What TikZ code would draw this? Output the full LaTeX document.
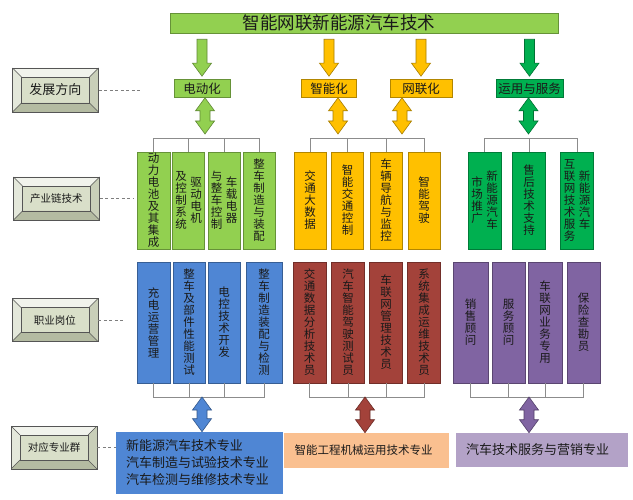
\documentclass[tikz,border=0pt]{standalone}
\usepackage{fontspec}
\setmainfont{Noto Sans CJK SC}
\usetikzlibrary{calc}
\XeTeXlinebreaklocale "zh"
\XeTeXlinebreakskip=0pt plus 1pt
\providecommand{\Lime}{92D050}
\providecommand{\Amber}{FFC000}
\providecommand{\Leaf}{00B050}
\providecommand{\Sky}{4F86D4}
\providecommand{\Brick}{A3423A}
\providecommand{\Plum}{8064A2}
\newcommand{\Shaft}{5pt}
\newcommand{\Head}{9.5pt}
\newcommand{\HeadLen}{13pt}
\newcommand{\Bevel}{9pt}
\newcommand{\ColW}{12pt}
\newcommand{\VCol}[1]{\parbox[c]{\ColW}{\centering #1}}
\definecolor{lime}{HTML}{\Lime}
\definecolor{amber}{HTML}{\Amber}
\definecolor{leaf}{HTML}{\Leaf}
\definecolor{sky}{HTML}{\Sky}
\definecolor{brick}{HTML}{\Brick}
\definecolor{plum}{HTML}{\Plum}
\definecolor{peach}{HTML}{FAC090}
\definecolor{lilac}{HTML}{B3A2C7}
\definecolor{ink}{HTML}{1A1A1A}
\definecolor{rule}{HTML}{8C8C8C}
\definecolor{bevelface}{HTML}{D9DFC9}
\definecolor{bevellight}{HTML}{F1F3EC}
\definecolor{bevelside}{HTML}{E4E8DB}
\definecolor{bevelshade}{HTML}{C9CFB9}
\definecolor{beveldark}{HTML}{B4BBA2}
\definecolor{bevelline}{HTML}{555555}

% fat block arrows, straight down / both ways
\newcommand{\FatDown}[3]{%
  \filldraw[fatarrow=#3] let \p1=(#1), \p2=(#2) in
    (\x2-\Shaft,\y1-6pt) -- (\x2+\Shaft,\y1-6pt) -- (\x2+\Shaft,\y2+3pt+\HeadLen)
    -- (\x2+\Head,\y2+3pt+\HeadLen) -- (\x2,\y2+3pt) -- (\x2-\Head,\y2+3pt+\HeadLen)
    -- (\x2-\Shaft,\y2+3pt+\HeadLen) -- cycle;}
\newcommand{\FatBoth}[3]{%
  \filldraw[fatarrow=#3] let \p1=(#1), \p2=(#2) in
    (\x1,\y1) -- (\x1+\Head,\y1-\HeadLen) -- (\x1+\Shaft,\y1-\HeadLen)
    -- (\x1+\Shaft,\y2+\HeadLen) -- (\x1+\Head,\y2+\HeadLen) -- (\x1,\y2)
    -- (\x1-\Head,\y2+\HeadLen) -- (\x1-\Shaft,\y2+\HeadLen)
    -- (\x1-\Shaft,\y1-\HeadLen) -- (\x1-\Head,\y1-\HeadLen) -- cycle;}

\tikzset{
  fatarrow/.style={fill=#1, draw=#1!65!black, line width=0.6pt, line join=miter},
  flatbox/.style={draw=#1!70!black, fill=#1, line width=0.6pt, inner sep=0pt, text=ink},
  catbox/.style={flatbox=#1, minimum height=18pt, font=\fontsize{12.5}{14}\selectfont},
  tierbox/.style={flatbox=#1, font=\fontsize{11.5}{12}\selectfont},
  bracket/.style={rule, line width=0.8pt},
  guide/.style={rule!90!black, line width=0.7pt, dash pattern=on 3pt off 2.5pt},
  bevelbox/.style={draw=bevelline, fill=bevelface, line width=0.6pt, minimum width=86pt,
    minimum height=43pt, inner sep=0pt, text=ink, font=\fontsize{10.5}{12}\selectfont,
    path picture={
      \coordinate (pnw) at (path picture bounding box.north west);
      \coordinate (pne) at (path picture bounding box.north east);
      \coordinate (psw) at (path picture bounding box.south west);
      \coordinate (pse) at (path picture bounding box.south east);
      \coordinate (qnw) at ($(pnw)+(\Bevel,-\Bevel)$);
      \coordinate (qne) at ($(pne)+(-\Bevel,-\Bevel)$);
      \coordinate (qsw) at ($(psw)+(\Bevel,\Bevel)$);
      \coordinate (qse) at ($(pse)+(-\Bevel,\Bevel)$);
      \fill[bevellight] (pnw) -- (pne) -- (qne) -- (qnw) -- cycle;
      \fill[bevelside] (pnw) -- (qnw) -- (qsw) -- (psw) -- cycle;
      \fill[beveldark] (psw) -- (qsw) -- (qse) -- (pse) -- cycle;
      \fill[bevelshade] (pne) -- (pse) -- (qse) -- (qne) -- cycle;
      \draw[bevelline, line width=0.5pt] (qnw) rectangle (qse);
      \draw[bevelline, line width=0.4pt] (pnw) -- (qnw) (pne) -- (qne) (psw) -- (qsw) (pse) -- (qse);
    }},
}

\begin{document}
\begin{tikzpicture}[x=1pt, y=-1pt]

  \fill[white] (0,0) rectangle (633,500);
  \useasboundingbox (0,0) rectangle (633,500);

  % ---- row labels on the left ---------------------------------------------
  \node[bevelbox, font=\fontsize{13}{14}\selectfont, minimum height=44pt] (dev) at (55.5,90) {发展方向};
  \node[bevelbox] (chain) at (56.5,198.5) {产业链技术};
  \node[bevelbox] (job) at (55,320) {职业岗位};
  \node[bevelbox] (major) at (54,447.5) {对应专业群};
  \coordinate (devend) at (141,90);
  \coordinate (chainend) at (134,198.5);
  \coordinate (jobend) at (124,320);
  \coordinate (majorend) at (117,447.5);
  \foreach \n in {dev,chain,job,major}
    \draw[guide] (\n.east) -- (\n end);

  % ---- title and the four directions --------------------------------------
  \node[flatbox=lime, minimum width=388pt, minimum height=20pt] (title) at (364,23) {};
  \node[text=ink, inner sep=0pt, font=\fontsize{17.5}{20}\selectfont] (titletext) at (339,23) {智能网联新能源汽车技术};

  \node[catbox=lime, minimum width=56pt] (elec) at (202,88.5) {电动化};
  \node[catbox=amber, minimum width=55pt] (smart) at (329,88.5) {智能化};
  \node[catbox=amber, minimum width=62pt] (net) at (421,88.5) {网联化};
  \node[catbox=leaf, minimum width=67pt] (serv) at (529.5,88.5) {运用与服务};

  \FatDown{title.south}{elec.north}{lime}
  \FatDown{title.south}{smart.north}{amber}
  \FatDown{title.south}{net.north}{amber}
  \FatDown{title.south}{serv.north}{leaf}

  % ---- industry chain technologies ----------------------------------------
  \foreach \n/\cx/\w/\txt in {
      g1/153.5/33/{\VCol{动力电池及其集成}},
      g2/188.5/32/{\VCol{及控制系统}\hspace{3pt}\VCol{驱动电机}},
      g3/224/32/{\VCol{与整车控制}\hspace{3pt}\VCol{车载电器}},
      g4/259/32/{\VCol{整车制造与装配}}}
    \node[tierbox=lime, minimum width=\w pt, minimum height=97pt] (\n) at (\cx,200.5) {\txt};
  \foreach \n/\cx/\txt in {o1/310/交通大数据, o2/347.5/智能交通控制,
      o3/386/车辆导航与监控, o4/424/智能驾驶}
    \node[tierbox=amber, minimum width=32pt, minimum height=97pt] (\n) at (\cx,200.5) {\VCol{\txt}};
  \foreach \n/\cx/\txt in {
      l1/484.5/{\VCol{市场推广}\hspace{3pt}\VCol{新能源汽车}},
      l2/529/{\VCol{售后技术支持}},
      l3/577/{\VCol{互联网技术服务}\hspace{3pt}\VCol{新能源汽车}}}
    \node[tierbox=leaf, minimum width=33pt, minimum height=97pt] (\n) at (\cx,200.5) {\txt};

  \coordinate (topbar) at (0,138);
  \coordinate (toptip) at (0,134);
  \draw[bracket] (g1.north) |- (g4.north |- topbar) -- (g4.north);
  \draw[bracket] (o1.north) |- (o4.north |- topbar) -- (o4.north);
  \draw[bracket] (l1.north) |- (l3.north |- topbar) -- (l3.north);
  \foreach \n in {g2,g3,o2,o3,l2}
    \draw[bracket] (\n.north) -- (\n.north |- topbar);

  \FatBoth{[xshift=3pt]elec.south}{toptip}{lime}
  \FatBoth{[xshift=9pt]smart.south}{toptip}{amber}
  \FatBoth{[xshift=-19pt]net.south}{toptip}{amber}
  \FatBoth{[xshift=-1pt]serv.south}{toptip}{leaf}

  % ---- jobs ---------------------------------------------------------------
  \foreach \n/\cx/\w/\txt in {b1/153.5/33/充电运营管理, b2/189/32/整车及部件性能测试,
      b3/224/32/电控技术开发, b4/264/36/整车制造装配与检测}
    \node[tierbox=sky, minimum width=\w pt, minimum height=121pt] (\n) at (\cx,322.5) {\VCol{\txt}};
  \foreach \n/\cx/\txt in {r1/309.5/交通数据分析技术员, r2/348/汽车智能驾驶测试员,
      r3/386/车联网管理技术员, r4/424/系统集成运维技术员}
    \node[tierbox=brick, minimum width=33pt, minimum height=121pt] (\n) at (\cx,322.5) {\VCol{\txt}};
  \foreach \n/\cx/\w/\txt in {p1/470.5/35/销售顾问, p2/508.5/33/服务顾问,
      p3/545/34/车联网业务专用, p4/583.5/33/保险查勘员}
    \node[tierbox=plum, minimum width=\w pt, minimum height=121pt] (\n) at (\cx,322.5) {\VCol{\txt}};

  \coordinate (botbar) at (0,397);
  \draw[bracket] (b1.south) |- (b4.south |- botbar) -- (b4.south);
  \draw[bracket] (r1.south) |- (r4.south |- botbar) -- (r4.south);
  \draw[bracket] (p1.south) |- (p4.south |- botbar) -- (p4.south);
  \foreach \n in {b2,b3,r2,r3,p2,p3}
    \draw[bracket] (\n.south) -- (\n.south |- botbar);

  % ---- matching majors ----------------------------------------------------
  \node[flatbox=sky, draw=sky, minimum width=166pt, minimum height=61pt, text width=146pt,
        inner xsep=10pt, align=left, font=\fontsize{13}{17}\selectfont] (majorA) at (199,462.5)
    {新能源汽车技术专业\\汽车制造与试验技术专业\\汽车检测与维修技术专业};
  \node[flatbox=peach, draw=peach, minimum width=164pt, minimum height=34pt, text width=143pt,
        inner xsep=10.5pt, align=left, font=\fontsize{11.5}{14}\selectfont] (majorB) at (366,450)
    {智能工程机械运用技术专业};
  \node[flatbox=lilac, draw=lilac, minimum width=171pt, minimum height=33pt, text width=151pt,
        inner xsep=10pt, align=left, font=\fontsize{13}{15}\selectfont] (majorC) at (541.5,449.5)
    {汽车技术服务与营销专业};

  \coordinate (bjoin) at (202,397);
  \coordinate (rjoin) at (365,397);
  \coordinate (pjoin) at (529,397);
  \FatBoth{bjoin}{majorA.north}{sky}
  \FatBoth{rjoin}{majorB.north}{brick}
  \FatBoth{pjoin}{majorC.north}{plum}

\end{tikzpicture}
\end{document}
